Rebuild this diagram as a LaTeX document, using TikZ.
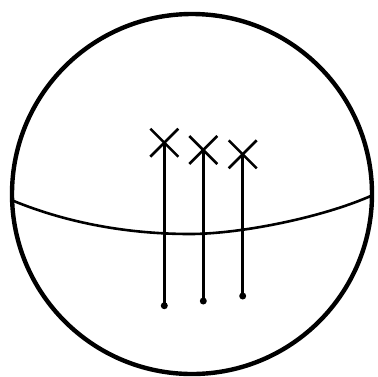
\documentclass[tikz,border=0pt]{standalone}
\usetikzlibrary{calc}
\begin{document}
\begin{tikzpicture}[x=1pt,y=-1pt,
  thin line/.style={line width=2.6pt},
  dotnode/.style={circle,fill=black,inner sep=0pt,minimum size=7pt}]
\useasboundingbox (0,0) rectangle (378,376);
% sphere outline
\draw[line width=4.4pt] (192,194) circle[radius=180];
% equator
\coordinate (eqL) at (13,200.7);
\coordinate (eqB) at (190,234);
\coordinate (eqR) at (373,195);
\draw[thin line] (eqL) .. controls (69,223.7) and (130,234) .. (eqB)
  .. controls (240,234) and (323,217.5) .. (eqR);
% three rods
\foreach \n/\x/\yt/\yb in {a/164.3/142.7/305.7, b/203.3/150/301, c/242.7/154.3/296}{
  \coordinate (top\n) at (\x,\yt);
  \node[dotnode] (bot\n) at (\x,\yb) {};
  \draw[thin line] (top\n) -- (bot\n.center);
  \draw[thin line] ($(top\n)+(-14,-14)$) -- ($(top\n)+(14,14)$);
  \draw[thin line] ($(top\n)+(-14,14)$) -- ($(top\n)+(14,-14)$);
}
\end{tikzpicture}
\end{document}
